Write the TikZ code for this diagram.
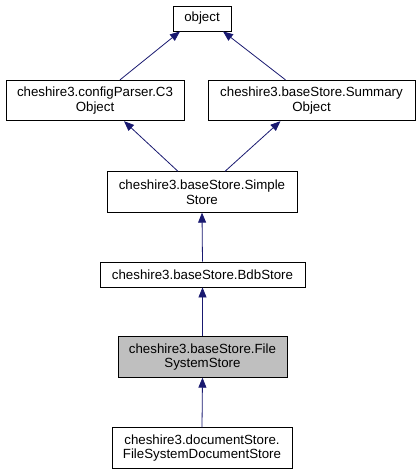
\documentclass[tikz,border=0pt]{standalone}
\usepackage{fontspec}
\setmainfont{Liberation Sans}
\usetikzlibrary{arrows.meta}

\definecolor{edgeblue}{RGB}{25,25,112}
\definecolor{curgray}{RGB}{191,191,191}

\begin{document}
\begin{tikzpicture}[
  x=1pt, y=-1pt,
  cls/.style={draw=black, fill=white, line width=0.8pt, inner sep=0pt, align=center,
    font=\fontsize{13.3}{14.5}\selectfont},
  onerow/.style={cls, minimum height=25pt},
  tworow/.style={cls, minimum height=40.5pt},
  current/.style={fill=curgray},
  inh/.style={edgeblue, line width=0.8pt, -{Triangle[length=10pt, width=8pt]}},
]
\useasboundingbox (0,0) rectangle (419,475);

% --- classes, top to bottom ---
\node[onerow, minimum width=58pt] (obj) at (202, 18.5) {object};
\node[tworow, minimum width=178pt] (cfgobj) at (95, 100.5) {cheshire3.configParser.C3\\Object};
\node[tworow, minimum width=207pt] (sumobj) at (311.5, 100.5) {cheshire3.baseStore.Summary\\Object};
\node[tworow, minimum width=190pt] (simple) at (202, 192) {cheshire3.baseStore.Simple\\Store};
\node[onerow, minimum width=205pt] (bdb) at (202.5, 274.5) {cheshire3.baseStore.BdbStore};
\node[tworow, current, minimum width=169pt] (fss) at (202.5, 357) {cheshire3.baseStore.File\\SystemStore};
\node[tworow, minimum width=180pt] (docfss) at (202, 448) {cheshire3.documentStore.\\FileSystemDocumentStore};

% --- inheritance ---
\draw[inh] ([xshift=25pt]cfgobj.north) -- ([xshift=-22pt]obj.south);
\draw[inh] ([xshift=-26pt]sumobj.north) -- ([xshift=21pt]obj.south);
\draw[inh] ([xshift=-24pt]simple.north) -- ([xshift=29pt]cfgobj.south);
\draw[inh] ([xshift=23pt]simple.north) -- ([xshift=-31pt]sumobj.south);
\draw[inh] (bdb.north) -- (simple.south);
\draw[inh] (fss.north) -- (bdb.south);
\draw[inh] (docfss.north) -- (fss.south);

\end{tikzpicture}
\end{document}
